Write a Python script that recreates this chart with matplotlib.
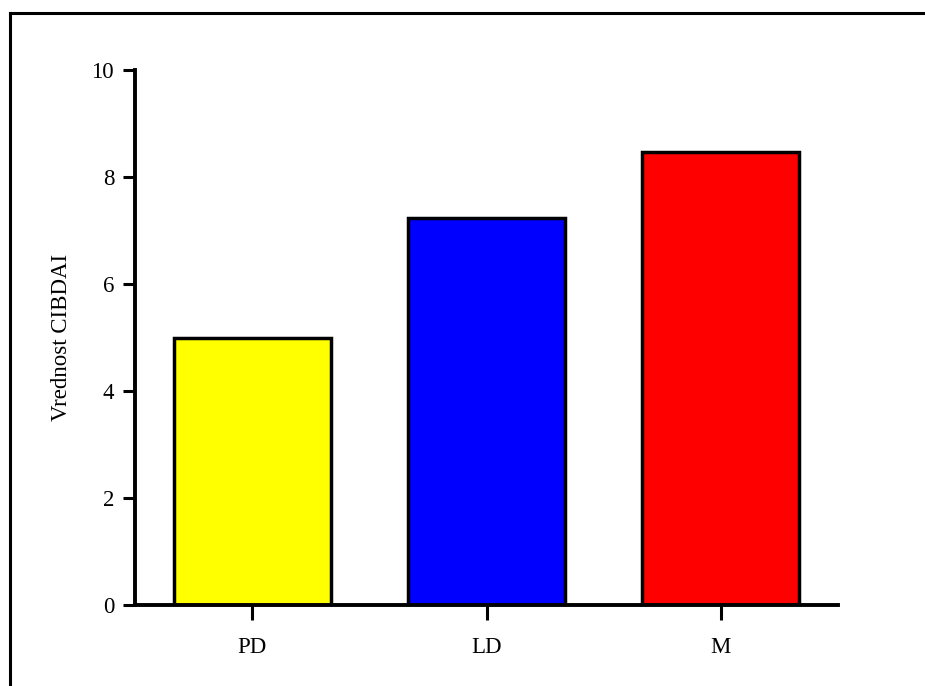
import matplotlib.pyplot as plt
from matplotlib.lines import Line2D

groups = ["PD", "LD", "M"]
values = [5.0, 7.23, 8.47]
colors = ["#ffff00", "#0000ff", "#ff0000"]
yticks = [0, 2, 4, 6, 8, 10]

plt.rcParams['font.family'] = ['Liberation Serif', 'DejaVu Serif']

W, H = 925, 686
fig = plt.figure(figsize=(W / 100, H / 100), dpi=100)
ax = fig.add_axes([135 / W, 1 - 605 / H, (838 - 135) / W, (605 - 70) / H])

x = range(len(groups))
ax.bar(x, values, width=0.67, color=colors, edgecolor="black", linewidth=2.5)

ax.set_xlim(-0.5, 2.5)
ax.set_ylim(0, 10)
ax.set_yticks(yticks)
ax.set_xticks(list(x))
ax.set_xticklabels(groups)

for s in ["top", "right"]:
    ax.spines[s].set_visible(False)
for s in ["left", "bottom"]:
    ax.spines[s].set_linewidth(2.8)

ax.tick_params(axis="y", length=9, width=2.2, labelsize=16.5, pad=6)
ax.tick_params(axis="x", length=11, width=2.2, labelsize=16.5, pad=12)
ax.set_ylabel("Vrednost CIBDAI", fontsize=16.5, labelpad=14)

# outer frame (left and top edges visible in the picture)
fig.add_artist(Line2D([10 / W, 10 / W], [0, 1 - 13 / H], color="black", lw=2.2,
                      transform=fig.transFigure))
fig.add_artist(Line2D([10 / W, 1], [1 - 13 / H, 1 - 13 / H], color="black", lw=2.2,
                      transform=fig.transFigure))

fig.savefig("out.png", dpi=100)
